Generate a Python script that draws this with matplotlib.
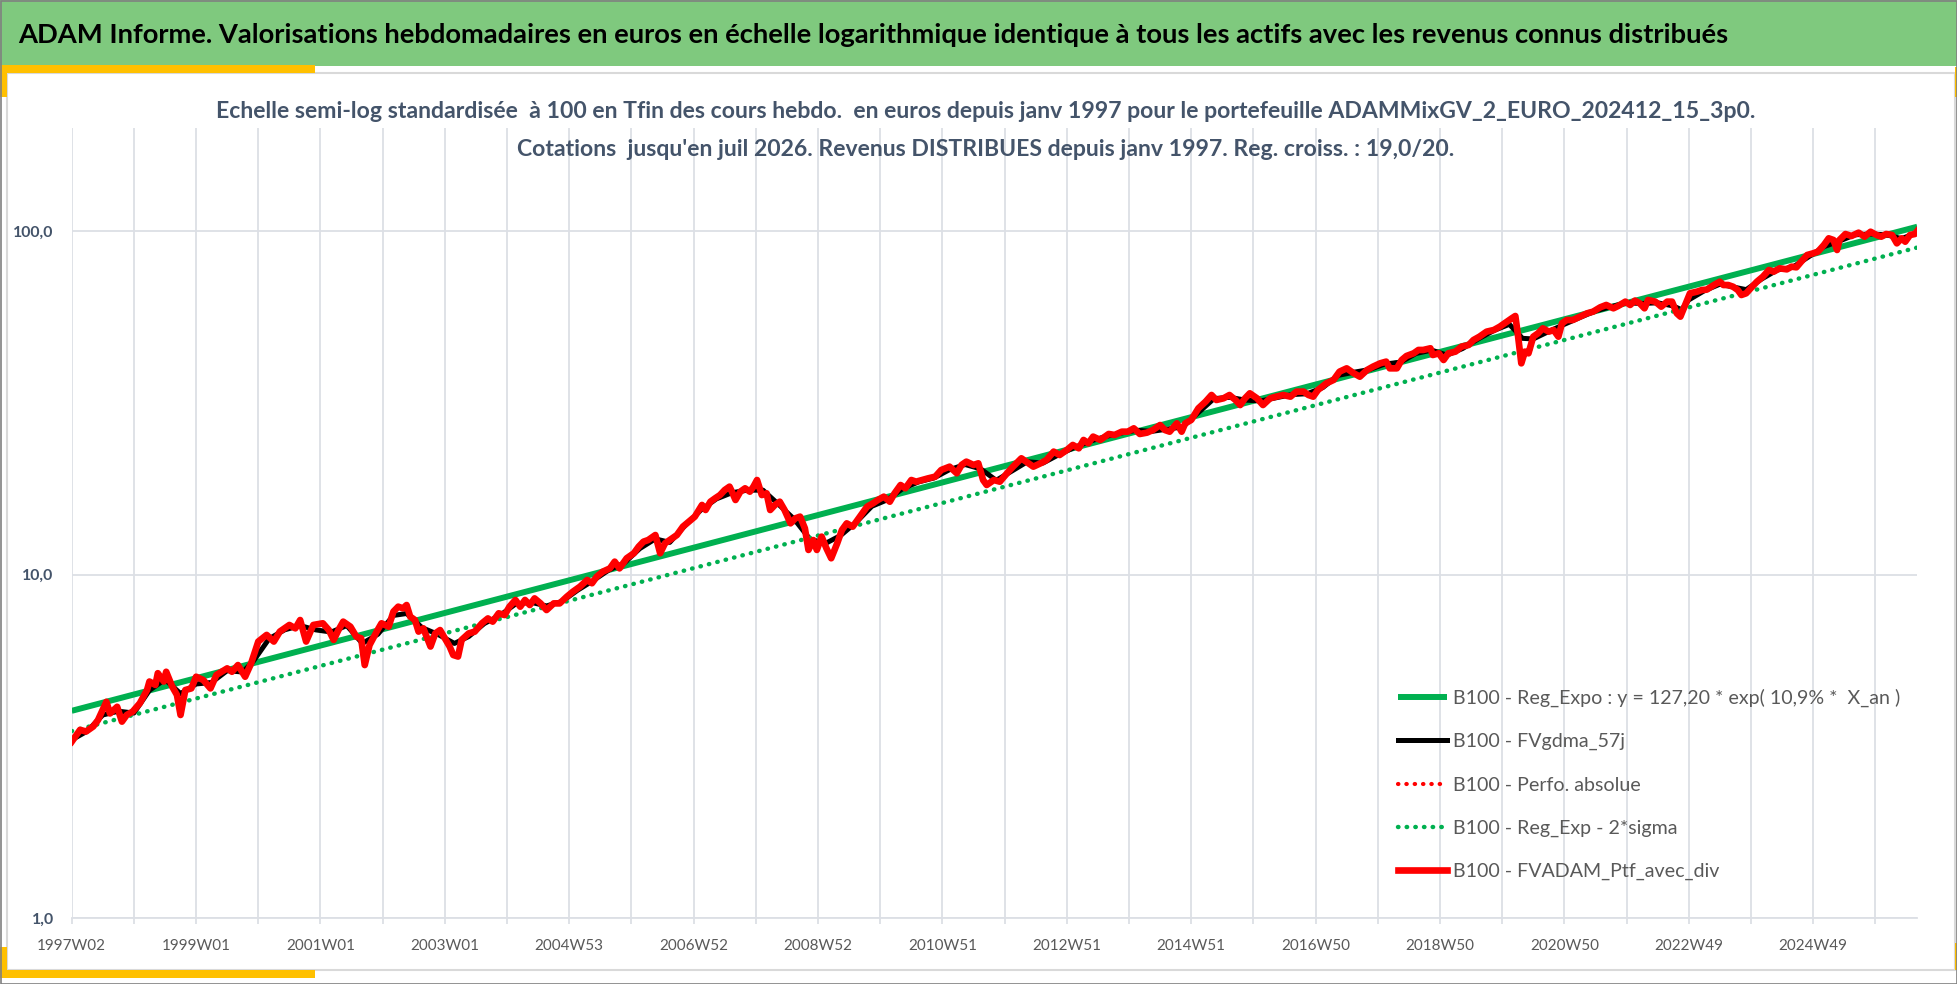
import matplotlib
matplotlib.use("Agg")
import matplotlib.pyplot as plt
from matplotlib.patches import Rectangle
from matplotlib.ticker import FixedLocator, FuncFormatter

plt.rcParams['font.family'] = ['Lato', 'DejaVu Sans']

# week index 0 = 1997W02, last index = 2026W30
n_weeks = 1544

tick_labels = ["1997W02", "1999W01", "2001W01", "2003W01", "2004W53", "2006W52",
               "2008W52", "2010W51", "2012W51", "2014W51", "2016W50", "2018W50",
               "2020W50", "2022W49", "2024W49"]

# B100 - FVADAM_Ptf_avec_div
ptf_weeks = [0, 7, 12, 18, 22, 29, 32, 38, 42, 46, 51, 57, 63, 65, 70, 72, 77, 79, 84, 88,
             91, 95, 100, 104, 110, 116, 121, 130, 134, 139, 145, 150, 156, 163, 169, 174,
             182, 187, 191, 196, 202, 210, 215, 219, 223, 227, 233, 238, 242, 245, 249,
             255, 259, 265, 269, 273, 277, 280, 283, 287, 290, 294, 300, 304, 308, 312,
             316, 319, 323, 326, 332, 337, 343, 348, 352, 357, 362, 366, 371, 375, 379,
             383, 387, 392, 397, 403, 408, 414, 419, 425, 431, 435, 439, 444, 450, 454,
             458, 464, 470, 474, 478, 482, 488, 492, 496, 500, 506, 511, 516, 521, 527,
             530, 534, 538, 542, 546, 550, 552, 555, 559, 563, 567, 570, 573, 577, 581,
             584, 588, 592, 596, 601, 605, 609, 613, 616, 620, 623, 627, 631, 635, 640,
             644, 648, 653, 659, 665, 670, 674, 679, 684, 688, 693, 697, 702, 706, 711,
             716, 722, 727, 734, 740, 744, 748, 754, 758, 762, 765, 771, 776, 782, 787,
             794, 798, 804, 810, 815, 821, 826, 832, 837, 842, 846, 850, 854, 860, 867,
             872, 878, 883, 888, 893, 899, 904, 910, 914, 918, 924, 928, 931, 936, 942,
             948, 953, 957, 963, 968, 973, 977, 981, 985, 991, 996, 1002, 1007, 1013,
             1019, 1024, 1030, 1034, 1038, 1042, 1049, 1055, 1060, 1066, 1072, 1077,
             1083, 1088, 1094, 1099, 1102, 1108, 1112, 1116, 1122, 1126, 1130, 1136,
             1138, 1143, 1147, 1151, 1157, 1162, 1168, 1172, 1177, 1183, 1189, 1194,
             1200, 1204, 1207, 1209, 1212, 1215, 1218, 1222, 1226, 1230, 1235, 1239,
             1243, 1246, 1250, 1255, 1261, 1267, 1272, 1278, 1283, 1289, 1293, 1299,
             1303, 1307, 1311, 1315, 1318, 1324, 1329, 1334, 1338, 1342, 1345, 1349,
             1353, 1359, 1363, 1367, 1373, 1378, 1381, 1385, 1389, 1393, 1396, 1400,
             1405, 1409, 1414, 1419, 1423, 1428, 1434, 1438, 1442, 1446, 1451, 1456,
             1460, 1465, 1469, 1473, 1476, 1478, 1483, 1488, 1494, 1499, 1504, 1509,
             1513, 1517, 1522, 1526, 1530, 1533, 1537, 1541, 1543]
ptf_vals = [3.26, 3.53, 3.49, 3.61, 3.77, 4.26, 3.94, 4.12, 3.73, 3.90, 3.99, 4.22, 4.61,
            4.88, 4.77, 5.16, 4.88, 5.21, 4.72, 4.46, 3.90, 4.61, 4.66, 5.04, 4.93, 4.66,
            5.10, 5.33, 5.21, 5.45, 5.04, 5.51, 6.38, 6.67, 6.38, 6.82, 7.13, 6.97, 7.37,
            6.38, 7.13, 7.21, 6.89, 6.45, 6.89, 7.29, 7.05, 6.59, 6.52, 5.45, 6.23, 6.82,
            7.21, 7.05, 7.80, 8.06, 7.97, 8.15, 7.54, 7.37, 6.82, 6.97, 6.17, 6.74, 6.89,
            6.52, 6.17, 5.83, 5.77, 6.45, 6.74, 6.82, 7.21, 7.45, 7.29, 7.71, 7.62, 8.06,
            8.43, 8.06, 8.43, 8.15, 8.52, 8.24, 7.88, 8.24, 8.24, 8.62, 8.91, 9.22, 9.64,
            9.43, 9.86, 10.19, 10.42, 10.90, 10.42, 11.15, 11.53, 12.05, 12.46, 12.60,
            13.03, 11.53, 12.32, 12.60, 13.03, 13.78, 14.25, 14.74, 15.94, 15.41, 16.29,
            16.67, 17.03, 17.62, 18.02, 17.42, 16.48, 17.42, 17.82, 17.42, 18.02, 18.84,
            17.03, 17.23, 15.41, 15.94, 16.29, 15.41, 14.09, 14.57, 14.74, 13.63, 11.79,
            12.60, 11.79, 12.89, 11.92, 11.15, 12.32, 13.48, 14.09, 13.78, 14.74, 15.76,
            16.12, 16.48, 16.85, 16.29, 17.23, 18.22, 17.82, 18.84, 18.63, 18.84, 19.05,
            19.27, 20.15, 20.60, 19.71, 20.84, 21.31, 20.84, 21.07, 18.84, 18.22, 18.84,
            18.63, 19.71, 20.60, 21.79, 21.31, 20.60, 21.07, 21.54, 22.79, 22.28, 23.04,
            23.83, 23.30, 24.64, 24.10, 25.20, 24.64, 25.65, 25.48, 26.05, 26.05, 26.64,
            25.65, 25.88, 26.34, 27.24, 26.34, 26.05, 27.55, 26.05, 27.55, 28.17, 30.46,
            31.85, 33.31, 32.21, 32.58, 33.31, 32.21, 31.14, 32.58, 33.69, 32.58, 31.14,
            32.58, 32.94, 33.31, 32.94, 34.07, 34.07, 33.31, 32.94, 34.45, 36.02, 36.84,
            38.95, 39.83, 38.52, 37.66, 39.38, 40.28, 41.19, 41.66, 39.83, 39.83, 42.12,
            43.27, 44.05, 45.05, 45.05, 45.56, 43.55, 44.05, 42.12, 44.05, 44.55, 46.07,
            46.58, 48.16, 49.25, 50.93, 51.50, 52.66, 54.46, 55.69, 56.57, 50.37, 41.19,
            44.55, 44.05, 49.25, 50.37, 52.08, 50.93, 51.50, 49.25, 53.85, 55.07, 55.07,
            56.32, 57.59, 58.24, 59.96, 60.91, 59.56, 60.50, 62.28, 60.91, 62.71, 61.58,
            59.56, 62.98, 62.28, 60.22, 62.28, 62.28, 57.59, 56.32, 60.91, 65.86, 66.60,
            67.33, 67.50, 69.62, 71.20, 69.62, 69.62, 68.85, 67.33, 65.12, 65.86, 68.85,
            71.20, 73.64, 77.00, 76.14, 77.86, 77.34, 78.73, 78.39, 81.42, 85.14, 86.10,
            87.07, 91.04, 95.21, 94.15, 88.05, 94.15, 98.00, 96.70, 98.90, 96.27, 99.50,
            97.36, 96.27, 98.00, 97.36, 92.07, 95.21, 93.09, 97.36, 98.00, 100.0]

# B100 - FVgdma_57j (smoothed curve)
gdma_weeks = [0, 13, 26, 39, 52, 65, 78, 91, 104, 117, 130, 143, 152, 165, 178, 191, 204,
              217, 230, 243, 256, 269, 280, 293, 306, 320, 332, 345, 358, 371, 384, 397,
              410, 423, 436, 449, 462, 475, 488, 500, 513, 526, 539, 552, 565, 578, 591,
              604, 617, 630, 643, 656, 669, 682, 695, 708, 721, 734, 747, 760, 773, 786,
              799, 812, 825, 838, 851, 864, 877, 890, 903, 916, 929, 942, 955, 968, 981,
              994, 1007, 1020, 1033, 1046, 1059, 1072, 1085, 1098, 1111, 1124, 1137, 1150,
              1163, 1176, 1189, 1202, 1213, 1222, 1235, 1248, 1261, 1274, 1287, 1300, 1313,
              1326, 1339, 1346, 1352, 1365, 1378, 1391, 1400, 1413, 1426, 1439, 1452, 1465,
              1478, 1491, 1504, 1517, 1530, 1543]
gdma_vals = [3.3, 3.5, 3.9, 4.0, 3.95, 4.6, 4.95, 4.5, 4.8, 4.85, 5.25, 5.2, 5.6, 6.5, 6.9,
             7.1, 6.9, 6.8, 7.1, 6.3, 6.7, 7.6, 7.7, 7.0, 6.7, 6.3, 6.6, 7.2, 7.6, 8.2, 8.3,
             8.1, 8.35, 9.0, 9.6, 10.3, 10.8, 11.9, 12.7, 12.4, 13.9, 15.4, 16.6, 17.3,
             17.6, 17.6, 16.0, 14.5, 12.7, 12.3, 13.0, 14.2, 15.8, 16.5, 17.8, 18.6, 19.1,
             20.2, 20.9, 20.3, 18.8, 20.0, 21.3, 21.1, 22.3, 23.4, 24.4, 25.2, 25.8, 26.3,
             26.1, 26.5, 26.9, 29.6, 32.5, 32.8, 32.2, 32.0, 32.7, 33.4, 33.6, 35.0, 38.0,
             38.8, 39.5, 41.0, 41.5, 44.0, 45.0, 43.5, 45.5, 48.5, 51.3, 53.5, 48.7, 48.5,
             51.0, 53.5, 56.0, 58.5, 60.2, 61.8, 61.5, 61.8, 60.5, 59.0, 63.0, 67.0, 70.0,
             68.5, 67.5, 72.5, 77.0, 78.5, 84.0, 90.0, 93.5, 97.5, 98.0, 97.5, 95.0, 99.0]

# exponential regression and its -2 sigma band (straight on a log axis)
reg_weeks = [0, 1543]
reg_vals = [4.01, 102.9]
sigma_vals = [3.50, 89.5]

labels = ["B100 - Reg_Expo : y = 127,20 * exp( 10,9% *  X_an )",
          "B100 - FVgdma_57j",
          "B100 - Perfo. absolue",
          "B100 - Reg_Exp - 2*sigma",
          "B100 - FVADAM_Ptf_avec_div"]

header = ("ADAM Informe. Valorisations hebdomadaires en euros en échelle logarithmique "
          "identique à tous les actifs avec les revenus connus distribués")
title1 = ("Echelle semi-log standardisée  à 100 en Tfin des cours hebdo.  en euros depuis "
          "janv 1997 pour le portefeuille ADAMMixGV_2_EURO_202412_15_3p0.")
title2 = ("Cotations  jusqu'en juil 2026. Revenus DISTRIBUES depuis janv 1997. "
          "Reg. croiss. : 19,0/20.")

W, H = 1958, 984
fig = plt.figure(figsize=(W / 100, H / 100), dpi=100)
renderer = fig.canvas.get_renderer()


def fit_size(text, width_px, **kw):
    t = fig.text(0, 0, text, fontsize=20, **kw)
    w = t.get_window_extent(renderer).width
    t.remove()
    return 20 * width_px / w


# background decorations in pixel coordinates
bg = fig.add_axes([0, 0, 1, 1])
bg.set_xlim(0, W)
bg.set_ylim(H, 0)
bg.axis('off')
bg.add_patch(Rectangle((0, 0), W, 66, fc='#7FC97E', ec='none'))
bg.add_patch(Rectangle((7, 73), 1948, 897, fc='white', ec='#D9D9D9', lw=1.5))
yellow = '#FFC000'
for (x0, y0, w, h) in [(0, 65, 315, 8), (0, 65, 7, 32), (0, 970, 315, 8),
                       (0, 947, 7, 31), (1955, 67, 3, 30), (1955, 943, 3, 27)]:
    bg.add_patch(Rectangle((x0, y0), w, h, fc=yellow, ec='none'))
bg.add_patch(Rectangle((0.5, 0.5), W - 1, H - 1, fill=False, ec='#808080', lw=1.2))

# header and chart titles
hs = fit_size(header, 1710, weight='bold')
fig.text(18 / W, 1 - 35 / H, header, fontsize=hs, weight='bold', color='black',
         ha='left', va='center')
ts = fit_size(title1, 1538, weight='bold')
fig.text(986 / W, 1 - 111 / H, title1, fontsize=ts, weight='bold', color='#44546A',
         ha='center', va='center', zorder=5)
fig.text(986 / W, 1 - 150 / H, title2, fontsize=ts, weight='bold', color='#44546A',
         ha='center', va='center', zorder=5)

# main plot
left, right, top, bottom = 71.7, 1917.2, 127.6, 918
ax = fig.add_axes([left / W, 1 - bottom / H, (right - left) / W, (bottom - top) / H])
ax.patch.set_visible(False)

green = '#00B050'
ax.plot(reg_weeks, reg_vals, color=green, lw=4.3, solid_capstyle='butt', label=labels[0])
ax.plot(gdma_weeks, gdma_vals, color='black', lw=3.6, label=labels[1])
ax.plot(ptf_weeks, ptf_vals, color='red', lw=3.0, ls=(0, (0.1, 1.9)),
        dash_capstyle='round', label=labels[2])
ax.plot(reg_weeks, sigma_vals, color=green, lw=3.2, ls=(0, (0.1, 1.85)),
        dash_capstyle='round', label=labels[3])
ax.plot(ptf_weeks, ptf_vals, color='red', lw=4.8, solid_joinstyle='round', label=labels[4])

ax.set_yscale('log')
ax.set_ylim(1, 200)
ax.set_xlim(0, n_weeks - 1)
ax.yaxis.set_major_locator(FixedLocator([1, 10, 100]))
ax.yaxis.set_minor_locator(FixedLocator([]))
ax.yaxis.set_major_formatter(FuncFormatter(lambda v, p: f"{v:.1f}".replace('.', ',')))
ax.set_xticks(range(0, n_weeks, 104))
ax.set_xticklabels(tick_labels)
ax.set_xticks(range(0, n_weeks, 52), minor=True)

grid_c = '#DCDFE5'
ax.grid(True, which='both', axis='x', color=grid_c, lw=1.3)
ax.grid(True, which='major', axis='y', color=grid_c, lw=1.3)
ax.set_axisbelow(True)
for side in ['left', 'right', 'top']:
    ax.spines[side].set_visible(False)
ax.spines['bottom'].set_color(grid_c)
ax.spines['bottom'].set_linewidth(1.3)

xs = fit_size('1997W02', 69)
ys = fit_size('100,0', 41, weight='bold')
ax.tick_params(axis='x', which='both', length=4, width=1.3, color=grid_c,
               labelsize=xs, labelcolor='#595959', pad=11)
ax.tick_params(axis='y', which='both', length=0, labelsize=ys, labelcolor='#44546A', pad=13)
for t in ax.get_yticklabels():
    t.set_fontweight('bold')

# legend, with row spacing tuned to ~43 px between entries
ls = fit_size(labels[0], 447)
ls_px = ls * 100 / 72
spacing = 1.1
for _ in range(3):
    leg = ax.legend(loc='center left', bbox_to_anchor=(1398 / W, 1 - 784.5 / H),
                    bbox_transform=fig.transFigure, frameon=False, fontsize=ls,
                    handlelength=49 / ls_px, handletextpad=0.3,
                    borderpad=0, borderaxespad=0, labelspacing=spacing)
    fig.canvas.draw()
    ty = [t.get_window_extent(renderer).y0 for t in leg.get_texts()]
    step = (ty[0] - ty[-1]) / 4
    spacing += (43.3 - step) / ls_px
for t in leg.get_texts():
    t.set_color('#595959')

fig.savefig('out.png', dpi=100)
